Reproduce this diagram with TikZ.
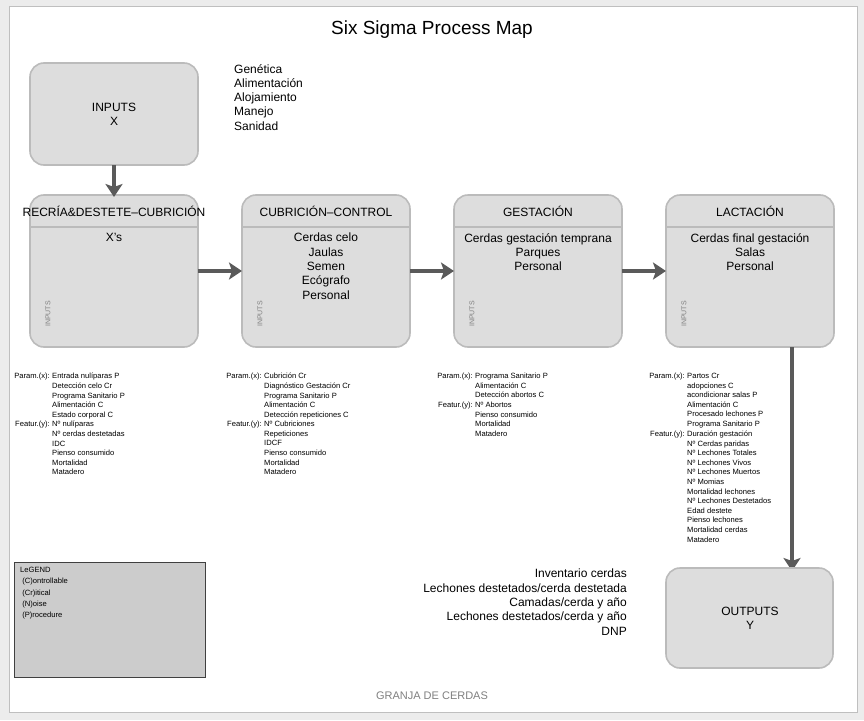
\documentclass[tikz,border=0pt]{standalone}
\usepackage{fontspec}
\setmainfont{Liberation Sans}
\usetikzlibrary{arrows.meta}
\definecolor{boxfill}{HTML}{DDDDDD}
\definecolor{boxline}{HTML}{BBBBBB}
\definecolor{arr}{HTML}{5A5A5A}
\tikzset{
 pbox/.style={draw=boxline,line width=1.6pt,fill=boxfill,rounded corners=14pt},
 flow/.style={draw=arr,line width=4.5pt,-{Stealth[length=13pt 0,width=17pt 0,inset=3pt 0]}},
 small/.style={font=\fontsize{7.6}{9.6}\selectfont,inner sep=0pt},
 mid/.style={font=\fontsize{12}{14.3}\selectfont,inner sep=0pt,align=center},
}
\newcommand{\prm}[4]{% x, y, label, text
 \node[small,anchor=north east] at (#1,#2) {#3};
 \node[small,anchor=north west,align=left] at (#1+2,#2) {#4};}
\begin{document}
\begin{tikzpicture}[x=1pt,y=-1pt]
\useasboundingbox (0,0) rectangle (864,720);
\fill[gray!15] (0,0) rectangle (864,720);
\draw[fill=white,draw=gray!50] (9,6) rectangle (857,712);
\node[font=\fontsize{19}{22}\selectfont] (title) at (432,30) {Six Sigma Process Map};
% inputs
\draw[pbox] (30,63) rectangle (198,165);
\node[mid] (inp) at (114,114) {INPUTS\\X};
\node[mid,align=left,anchor=north west] (gen) at (234,64) {Genética\\Alimentación\\Alojamiento\\Manejo\\Sanidad};
% process boxes
\foreach \x/\t/\b/\n in {30/{RECRÍA\&DESTETE--CUBRICIÓN}/{X's}/p1,242/{CUBRICIÓN--CONTROL}/{Cerdas celo\\Jaulas\\Semen\\Ecógrafo\\Personal}/p2,454/GESTACIÓN/{Cerdas gestación temprana\\Parques\\Personal}/p3,666/LACTACIÓN/{Cerdas final gestación\\Salas\\Personal}/p4}{
 \draw[pbox] (\x,195) rectangle (\x+168,347);
 \draw[boxline,line width=1.6pt] (\x,227) -- (\x+168,227);
 \node[mid] (\n h) at (\x+84,211) {\t};
 \node[mid,anchor=north] (\n b) at (\x+84,233) {\b};
 \node[font=\fontsize{7}{8}\selectfont,text=gray,rotate=90,inner sep=0pt] (\n i) at (\x+18,314) {INPUTS};
}
\coordinate (a0) at (114,165); \coordinate (a1) at (114,197);
\draw[flow] (a0) -- (a1);
\foreach \a/\b in {198/242,410/454,622/666}{
 \coordinate (s\a) at (\a,271); \coordinate (e\a) at (\b,271);
 \draw[flow] (s\a) -- (e\a);}
\coordinate (d0) at (792,347); \coordinate (d1) at (792,571);
\draw[flow] (d0) -- (d1);
% outputs
\draw[pbox] (666,568) rectangle (833,668);
\node[mid] (out) at (750,618) {OUTPUTS\\Y};
\node[mid,align=right,anchor=north east] (kpi) at (627,569) {Inventario cerdas\\Lechones destetados/cerda destetada\\Camadas/cerda y año\\Lechones destetados/cerda y año\\DNP};
% params
\prm{50}{373}{Param.(x):}{Entrada nulíparas P\\Detección celo Cr\\Programa Sanitario P\\Alimentación C\\Estado corporal C}
\prm{50}{421}{Featur.(y):}{Nº nulíparas\\Nº cerdas destetadas\\IDC\\Pienso consumido\\Mortalidad\\Matadero}
\prm{262}{373}{Param.(x):}{Cubrición Cr\\Diagnóstico Gestación Cr\\Programa Sanitario P\\Alimentación C\\Detección repeticiones C}
\prm{262}{421}{Featur.(y):}{Nº Cubriciones\\Repeticiones\\IDCF\\Pienso consumido\\Mortalidad\\Matadero}
\prm{473}{373}{Param.(x):}{Programa Sanitario P\\Alimentación C\\Detección abortos C}
\prm{473}{401.8}{Featur.(y):}{Nº Abortos\\Pienso consumido\\Mortalidad\\Matadero}
\prm{685}{373}{Param.(x):}{Partos Cr\\adopciones C\\acondicionar salas P\\Alimentación C\\Procesado lechones P\\Programa Sanitario P}
\prm{685}{430.6}{Featur.(y):}{Duración gestación\\Nº Cerdas paridas\\Nº Lechones Totales\\Nº Lechones Vivos\\Nº Lechones Muertos\\Nº Momias\\Mortalidad lechones\\Nº Lechones Destetados\\Edad destete\\Pienso lechones\\Mortalidad cerdas\\Matadero}
% legend
\draw[fill=gray!40,draw=black!75,line width=0.8pt] (14,562) rectangle (205,677);
\node[small,anchor=north west,align=left,font=\fontsize{7.6}{11.3}\selectfont] (leg) at (20,567) {L\textsc{e}GEND\\\ (C)ontrollable\\\ (Cr)itical\\\ (N)oise\\\ (P)rocedure};
\node[font=\fontsize{11}{13}\selectfont,text=gray] (foot) at (432,696) {GRANJA DE CERDAS};
\end{tikzpicture}
\end{document}
